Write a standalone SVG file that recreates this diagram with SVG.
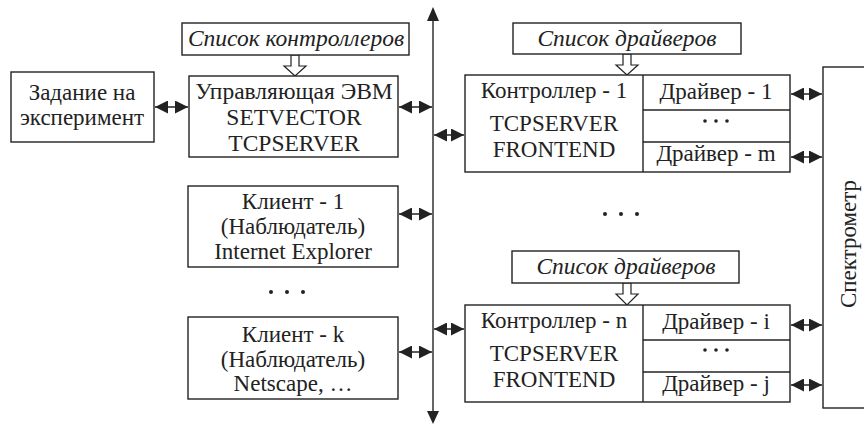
<svg xmlns="http://www.w3.org/2000/svg" width="864" height="425" viewBox="0 0 864 425">
<defs>
<style>
.box{fill:#fff;stroke:#222;stroke-width:1.4}
.t{font-size:23px;fill:#222;text-anchor:middle}
.big{font-size:23.5px}
.it{font-style:italic;font-size:23.5px;fill:#222;text-anchor:middle}
.conn{stroke:#222;stroke-width:1.5;fill:none;marker-start:url(#ah);marker-end:url(#ah)}
.bus{stroke:#666;stroke-width:2;fill:none}
.hollow{fill:#fff;stroke:#222;stroke-width:1.2}
.dot{fill:#222}
</style>
<marker id="ah" viewBox="0 0 12 12" refX="12" refY="6" markerWidth="13" markerHeight="13" markerUnits="userSpaceOnUse" orient="auto-start-reverse">
<path d="M0,0 L12,6 L0,12 z" fill="#222"/>
</marker>
</defs>

<g id="connectors">
<line class="bus" x1="433" y1="20" x2="433" y2="412"/>
<polygon points="427,21 439,21 433,7" fill="#222"/>
<polygon points="427,411 439,411 433,424" fill="#222"/>
<line class="conn" x1="155" y1="107" x2="188" y2="107"/>
<line class="conn" x1="399" y1="107" x2="432" y2="107"/>
<line class="conn" x1="399" y1="214" x2="432" y2="214"/>
<line class="conn" x1="399" y1="352" x2="432" y2="352"/>
<line class="conn" x1="434" y1="135" x2="464" y2="135"/>
<line class="conn" x1="434" y1="329" x2="464" y2="329"/>
<line class="conn" x1="791" y1="94" x2="822" y2="94"/>
<line class="conn" x1="791" y1="157" x2="822" y2="157"/>
<line class="conn" x1="791" y1="325" x2="822" y2="325"/>
<line class="conn" x1="791" y1="385" x2="822" y2="385"/>
<path class="hollow" d="M291,55 L299,55 L299,66 L306,66 L295,76 L284,66 L291,66 Z"/>
<path class="hollow" d="M623,54 L631,54 L631,65 L638,65 L627,75 L616,65 L623,65 Z"/>
<path class="hollow" d="M623,283 L631,283 L631,294 L638,294 L627,305 L616,294 L623,294 Z"/>
</g>

<g id="task">
<rect class="box" x="11" y="72" width="143" height="70"/>
<text class="t" font-family="Liberation Serif" x="82" y="100">Задание на</text>
<text class="t" font-family="Liberation Serif" x="82" y="125">эксперимент</text>
</g>

<g id="controllers-list">
<rect class="box" x="182" y="23" width="227" height="32"/>
<text class="it" font-family="Liberation Serif" x="296" y="46">Список контроллеров</text>
</g>

<g id="host">
<rect class="box" x="189" y="76" width="209" height="81"/>
<text class="t big" font-family="Liberation Serif" x="294" y="99">Управляющая ЭВМ</text>
<text class="t big" font-family="Liberation Serif" x="294" y="125">SETVECTOR</text>
<text class="t big" font-family="Liberation Serif" x="294" y="151">TCPSERVER</text>
</g>

<g id="client-1">
<rect class="box" x="188" y="186" width="210" height="81"/>
<text class="t" font-family="Liberation Serif" x="293" y="209">Клиент - 1</text>
<text class="t" font-family="Liberation Serif" x="293" y="234">(Наблюдатель)</text>
<text class="t" font-family="Liberation Serif" x="293" y="259">Internet Explorer</text>
</g>

<g id="clients-dots">
<circle class="dot" cx="271" cy="292" r="2"/>
<circle class="dot" cx="287" cy="292" r="2"/>
<circle class="dot" cx="303" cy="292" r="2"/>
</g>

<g id="client-k">
<rect class="box" x="188" y="317" width="210" height="82"/>
<text class="t" font-family="Liberation Serif" x="293" y="342">Клиент - k</text>
<text class="t" font-family="Liberation Serif" x="293" y="367">(Наблюдатель)</text>
<text class="t" font-family="Liberation Serif" x="293" y="391">Netscape, …</text>
</g>

<g id="drivers-list-1">
<rect class="box" x="513" y="23" width="228" height="31"/>
<text class="it" font-family="Liberation Serif" x="627" y="46">Список драйверов</text>
</g>

<g id="controller-1">
<rect class="box" x="465" y="75" width="325" height="97"/>
<line class="box" x1="643" y1="75" x2="643" y2="172"/>
<line class="box" x1="643" y1="110" x2="790" y2="110"/>
<line class="box" x1="643" y1="142" x2="790" y2="142"/>
<text class="t" font-family="Liberation Serif" x="554" y="98">Контроллер - 1</text>
<text class="t" font-family="Liberation Serif" x="554" y="131">TCPSERVER</text>
<text class="t" font-family="Liberation Serif" x="554" y="157">FRONTEND</text>
<text class="t" font-family="Liberation Serif" x="716" y="99">Драйвер - 1</text>
<circle class="dot" cx="705" cy="121" r="1.8"/>
<circle class="dot" cx="716" cy="121" r="1.8"/>
<circle class="dot" cx="727" cy="121" r="1.8"/>
<text class="t" font-family="Liberation Serif" x="716" y="161">Драйвер - m</text>
</g>

<g id="controllers-dots">
<circle class="dot" cx="605" cy="214" r="2"/>
<circle class="dot" cx="621" cy="214" r="2"/>
<circle class="dot" cx="637" cy="214" r="2"/>
</g>

<g id="drivers-list-n">
<rect class="box" x="512" y="251" width="227" height="32"/>
<text class="it" font-family="Liberation Serif" x="626" y="274">Список драйверов</text>
</g>

<g id="controller-n">
<rect class="box" x="465" y="305" width="325" height="97"/>
<line class="box" x1="643" y1="305" x2="643" y2="402"/>
<line class="box" x1="643" y1="340" x2="790" y2="340"/>
<line class="box" x1="643" y1="372" x2="790" y2="372"/>
<text class="t" font-family="Liberation Serif" x="554" y="328">Контроллер - n</text>
<text class="t" font-family="Liberation Serif" x="554" y="361">TCPSERVER</text>
<text class="t" font-family="Liberation Serif" x="554" y="387">FRONTEND</text>
<text class="t" font-family="Liberation Serif" x="716" y="329">Драйвер - i</text>
<circle class="dot" cx="705" cy="350" r="1.8"/>
<circle class="dot" cx="716" cy="350" r="1.8"/>
<circle class="dot" cx="727" cy="350" r="1.8"/>
<text class="t" font-family="Liberation Serif" x="716" y="391">Драйвер - j</text>
</g>

<g id="spectrometer">
<rect class="box" x="823" y="67" width="60" height="341"/>
<text class="t" font-family="Liberation Serif" transform="translate(856,244) rotate(-90)" x="0" y="0">Спектрометр</text>
</g>
</svg>
